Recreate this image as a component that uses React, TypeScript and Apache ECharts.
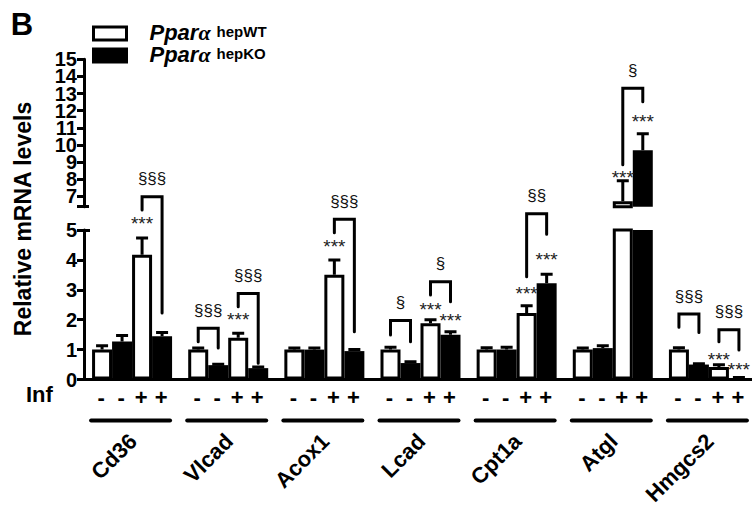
import React, { useEffect, useRef } from 'react';
import * as echarts from 'echarts';

const FONT = 'Liberation Sans, Arial, Helvetica, sans-serif';

// ---- data ----
const genes = ['Cd36', 'Vlcad', 'Acox1', 'Lcad', 'Cpt1a', 'Atgl', 'Hmgcs2'];
const infSigns = ['-', '-', '+', '+'];
const WT_NAME = 'Pparα hepWT';
const KO_NAME = 'Pparα hepKO';

// mean relative mRNA levels (bar order: WT -, KO -, WT +, KO +)
const wtUninf = [1.0, 1.0, 1.0, 1.0, 1.0, 1.0, 1.0];
const koUninf = [1.27, 0.48, 1.0, 0.55, 1.0, 1.05, 0.5];
const wtInf = [4.17, 1.4, 3.5, 1.88, 2.22, 6.72, 0.42];
const koInf = [1.45, 0.38, 0.95, 1.5, 3.22, 9.7, 0.05];
// SEM (upper error bars)
const wtUninfErr = [0.13, 0.05, 0.05, 0.08, 0.06, 0.05, 0.06];
const koUninfErr = [0.2, 0.03, 0.05, 0.04, 0.08, 0.08, 0.03];
const wtInfErr = [0.56, 0.15, 0.5, 0.12, 0.25, 1.2, 0.07];
const koInfErr = [0.12, 0.04, 0.05, 0.1, 0.3, 0.95, 0.02];

// axis ranges / ticks (broken axis)
const lowerTicks = [0, 1, 2, 3, 4, 5];
const upperTicks = [7, 8, 9, 10, 11, 12, 13, 14, 15];
const lowerRange = [0, 5];
const upperRange = [6.4, 15];

// "***" vs uninfected: [gene, bar, level, panel(0 lower / 1 upper)]
const stars = [
  [0, 2, 5.35, 0],
  [1, 2, 2.13, 0],
  [2, 2, 4.58, 0],
  [3, 2, 2.49, 0],
  [3, 3, 2.12, 0],
  [4, 2, 3.02, 0],
  [4, 3, 4.16, 0],
  [5, 2, 8.36, 1],
  [5, 3, 11.62, 1],
  [6, 2, 0.79, 0],
  [6, 3, 0.48, 0],
];

// genotype comparisons: [gene, barA, barB, top, leftEnd, rightEnd, panel]
const brackets = [
  [0, 2, 3, 6.11, 5.67, 2.22, 0],
  [1, 0, 1, 1.71, 1.26, 1.05, 0],
  [1, 2, 3, 2.88, 2.43, 0.54, 0],
  [2, 2, 3, 5.36, 4.91, 1.6, 0],
  [3, 0, 1, 1.97, 1.49, 1.26, 0],
  [3, 2, 3, 3.27, 2.83, 2.6, 0],
  [4, 2, 3, 5.54, 3.44, 4.86, 0],
  [5, 2, 3, 13.31, 8.85, 12.53, 1],
  [6, 0, 1, 2.19, 1.75, 1.57, 0],
  [6, 2, 3, 1.66, 1.26, 0.99, 0],
];
const bracketLabels = ['§§§', '§§§', '§§§', '§§§', '§', '§', '§§', '§', '§§§', '§§§'];

// ---- styling constants ----
const BAR_W = 20;
const means = [wtUninf, koUninf, wtInf, koInf];
const errs = [wtUninfErr, koUninfErr, wtInfErr, koInfErr];
const barNames = [WT_NAME, KO_NAME, WT_NAME, KO_NAME];
const barFill = ['#ffffff', '#000000', '#ffffff', '#000000'];

function barSeries(panel: number) {
  return means.map((arr, k) => ({
    type: 'bar',
    name: barNames[k],
    xAxisIndex: panel,
    yAxisIndex: panel,
    data: arr,
    barWidth: BAR_W,
    barGap: '0%',
    clip: true,
    z: 2,
    itemStyle: {
      color: barFill[k],
      borderColor: '#000',
      borderWidth: barFill[k] === '#ffffff' ? 3 : 0,
    },
    emphasis: { disabled: true },
  }));
}

function errorSeries(panel: number) {
  const data: number[][] = [];
  means.forEach((arr, k) => arr.forEach((m, g) => data.push([g, k, m, errs[k][g]])));
  return {
    type: 'custom',
    xAxisIndex: panel,
    yAxisIndex: panel,
    clip: true,
    z: 3,
    encode: { x: 0, y: 2 },
    data,
    renderItem: (_p: any, api: any) => {
      const g = api.value(0), k = api.value(1), m = api.value(2), e = api.value(3);
      const cx = api.coord([g, 0])[0] + (k - 1.5) * BAR_W;
      const y0 = api.coord([g, m])[1];
      const y1 = api.coord([g, m + e])[1];
      const st = { stroke: '#000', lineWidth: 3 };
      return {
        type: 'group',
        children: [
          { type: 'line', shape: { x1: cx, y1: y0, x2: cx, y2: y1 }, style: st },
          { type: 'line', shape: { x1: cx - 6, y1: y1, x2: cx + 6, y2: y1 }, style: st },
        ],
      };
    },
  };
}

function bracketSeries(panel: number) {
  const idx = brackets.map((_b, i) => i).filter((i) => brackets[i][6] === panel);
  return {
    type: 'custom',
    xAxisIndex: panel,
    yAxisIndex: panel,
    clip: false,
    z: 4,
    encode: { x: 0, y: 3 },
    data: idx.map((i) => brackets[i].slice(0, 6)),
    renderItem: (p: any, api: any) => {
      const label = bracketLabels[idx[p.dataIndex]];
      const g = api.value(0), a = api.value(1), b = api.value(2);
      const cx = api.coord([g, 0])[0];
      const xa = cx + (a - 1.5) * BAR_W;
      const xb = cx + (b - 1.5) * BAR_W;
      const yt = api.coord([g, api.value(3)])[1];
      const yl = api.coord([g, api.value(4)])[1];
      const yr = api.coord([g, api.value(5)])[1];
      return {
        type: 'group',
        children: [
          {
            type: 'polyline',
            shape: { points: [[xa, yl], [xa, yt], [xb, yt], [xb, yr]] },
            style: { stroke: '#000', lineWidth: 3, fill: null, lineJoin: 'miter', lineCap: 'round' },
          },
          {
            type: 'text',
            x: (xa + xb) / 2,
            y: yt - 18,
            style: {
              text: label, fill: '#111', fontSize: 17, fontFamily: FONT,
              align: 'center', verticalAlign: 'middle',
            },
          },
        ],
      };
    },
  };
}

function starSeries(panel: number) {
  return {
    type: 'custom',
    xAxisIndex: panel,
    yAxisIndex: panel,
    clip: false,
    z: 4,
    encode: { x: 0, y: 2 },
    data: stars.filter((s) => s[3] === panel).map((s) => s.slice(0, 3)),
    renderItem: (_p: any, api: any) => {
      const g = api.value(0), k = api.value(1), v = api.value(2);
      const cx = api.coord([g, 0])[0] + (k - 1.5) * BAR_W;
      const y = api.coord([g, v])[1];
      return {
        type: 'text',
        x: cx,
        y: y + 4,
        style: {
          text: '***', fill: '#222', fontSize: 19, fontFamily: FONT,
          align: 'center', verticalAlign: 'middle',
        },
      };
    },
  };
}

// Inf +/- row and group underline, placed from the category axis
const infSeries = {
  type: 'custom',
  xAxisIndex: 0,
  yAxisIndex: 0,
  clip: false,
  z: 4,
  encode: { x: 0, y: 1 },
  data: genes.map((_g, i) => [i, 0]),
  renderItem: (_p: any, api: any) => {
    const g = api.value(0);
    const [cx, y0] = api.coord([g, 0]);
    const children: any[] = infSigns.map((s, k) => ({
      type: 'text',
      x: cx + (k - 1.5) * BAR_W - 1,
      y: y0 + 17.5,
      style: {
        text: s, fill: '#000', fontSize: 22, fontWeight: 'bold', fontFamily: FONT,
        align: 'center', verticalAlign: 'middle',
      },
    }));
    children.push({
      type: 'line',
      shape: { x1: cx - 41, y1: y0 + 41, x2: cx + 38, y2: y0 + 41 },
      style: { stroke: '#000', lineWidth: 4, lineCap: 'round' },
    });
    return { type: 'group', children };
  },
};

const tickLabelStyle = {
  color: '#000', fontSize: 20, fontWeight: 'bold', fontFamily: FONT, margin: 7,
  showMinLabel: true, showMaxLabel: true,
};

const baseGraphic: any[] = [
  {
    type: 'text', x: 22, y: 24,
    style: { text: 'B', fill: '#000', fontSize: 31, fontWeight: 'bold', fontFamily: FONT, align: 'center', verticalAlign: 'middle' },
  },
  {
    type: 'text', x: 23, y: 219, rotation: Math.PI / 2,
    style: { text: 'Relative mRNA levels', fill: '#000', fontSize: 23, fontWeight: 'bold', fontFamily: FONT, align: 'center', verticalAlign: 'middle' },
  },
  {
    type: 'text', x: 26, y: 394,
    style: { text: 'Inf', fill: '#000', fontSize: 22, fontWeight: 'bold', fontFamily: FONT, align: 'left', verticalAlign: 'middle' },
  },
];

const upperOdd = upperTicks.filter((_t, i) => i % 2 === 0);
const upperEven = upperTicks.filter((_t, i) => i % 2 === 1);

const option: any = {
  animation: false,
  backgroundColor: '#ffffff',
  grid: [
    { left: 84, top: 230, width: 673, height: 149.5, outerBoundsMode: 'none', containLabel: false },
    { left: 84, top: 59.3, width: 673, height: 147.4, outerBoundsMode: 'none', containLabel: false },
  ],
  legend: {
    left: 92,
    top: 21,
    padding: 0,
    orient: 'vertical',
    itemWidth: 33,
    itemHeight: 13,
    itemGap: 0,
    selectedMode: false,
    data: [
      { name: WT_NAME, icon: 'rect', itemStyle: { color: '#fff', borderColor: '#000', borderWidth: 3 } },
      { name: KO_NAME, icon: 'rect', itemStyle: { color: '#000', borderColor: '#000', borderWidth: 3 } },
    ],
    formatter: (name: string) =>
      name === WT_NAME ? '{p|Ppar}{g|α}{s|hepWT}' : '{p|Ppar}{g|α}{s|hepKO}',
    textStyle: {
      rich: {
        p: { fontSize: 22, fontWeight: 'bold', fontStyle: 'italic', fontFamily: FONT, color: '#000', padding: [0, 0, 0, 18], lineHeight: 19, verticalAlign: 'bottom' },
        g: { fontSize: 22, fontWeight: 'bold', fontStyle: 'italic', fontFamily: 'Liberation Serif, serif', color: '#000', lineHeight: 19, verticalAlign: 'bottom' },
        s: { fontSize: 15, fontWeight: 'bold', fontFamily: FONT, color: '#000', padding: [0, 0, 0, 6], lineHeight: 12, verticalAlign: 'top' },
      },
    },
  },
  xAxis: [
    {
      type: 'category',
      gridIndex: 0,
      data: genes,
      boundaryGap: true,
      axisLine: { show: true, lineStyle: { color: '#000', width: 3 } },
      axisTick: { show: false },
      axisLabel: { show: false },
      splitLine: { show: false },
    },
    { type: 'category', gridIndex: 1, data: genes, show: false },
  ],
  yAxis: [
    {
      type: 'value', gridIndex: 0, position: 'left',
      min: lowerRange[0], max: lowerRange[1], interval: 1,
      axisLine: { show: true, lineStyle: { color: '#000', width: 3 } },
      axisTick: { show: true, inside: false, length: 7, lineStyle: { color: '#000', width: 3 }, customValues: lowerTicks },
      axisLabel: { ...tickLabelStyle, customValues: lowerTicks },
      splitLine: { show: false },
    },
    {
      type: 'value', gridIndex: 1, position: 'left',
      min: upperRange[0], max: upperRange[1],
      axisLine: { show: true, lineStyle: { color: '#000', width: 3 } },
      axisTick: { show: true, inside: false, length: 7, lineStyle: { color: '#000', width: 3 }, customValues: [upperRange[0], ...upperTicks] },
      axisLabel: { ...tickLabelStyle, customValues: upperOdd },
      splitLine: { show: false },
    },
    {
      type: 'value', gridIndex: 0, position: 'left',
      min: lowerRange[0], max: lowerRange[1],
      axisLine: { show: false },
      axisTick: { show: true, inside: true, length: 6, lineStyle: { color: '#000', width: 3 }, customValues: [lowerRange[1]] },
      axisLabel: { show: false },
      splitLine: { show: false },
    },
    {
      type: 'value', gridIndex: 1, position: 'left',
      min: upperRange[0], max: upperRange[1],
      axisLine: { show: false },
      axisTick: { show: true, inside: true, length: 5, lineStyle: { color: '#000', width: 3 }, customValues: [upperRange[0]] },
      axisLabel: { ...tickLabelStyle, customValues: upperEven },
      splitLine: { show: false },
    },
  ],
  graphic: baseGraphic,
  series: [
    ...barSeries(0),
    ...barSeries(1),
    errorSeries(0),
    errorSeries(1),
    bracketSeries(0),
    bracketSeries(1),
    starSeries(0),
    starSeries(1),
    infSeries,
  ],
};

export default function App() {
  const ref = useRef<HTMLDivElement>(null);
  useEffect(() => {
    if (!ref.current) return;
    const chart = echarts.init(ref.current, null, { renderer: 'svg' });
    chart.setOption(option);
    // rotated gene names, anchored at each category position of the lower x axis
    const geneLabels = genes.map((name, i) => {
      const pt = chart.convertToPixel({ xAxisIndex: 0, yAxisIndex: 0 }, [i, 0]) as number[];
      return {
        type: 'group',
        x: pt[0] + 1,
        y: pt[1] + 58,
        rotation: 0.7854,
        children: [
          {
            type: 'text',
            x: 0,
            y: 0,
            style: {
              text: name, fill: '#000', fontSize: 22, fontWeight: 'bold', fontFamily: FONT,
              align: 'right', verticalAlign: 'middle',
            },
          },
        ],
      };
    });
    chart.setOption({ graphic: [...baseGraphic, ...geneLabels] });
    return () => chart.dispose();
  }, []);
  return (
    <div
      ref={ref}
      style={{ position: 'absolute', left: 0, top: 0, width: 752, height: 506, background: '#fff' }}
    />
  );
}
